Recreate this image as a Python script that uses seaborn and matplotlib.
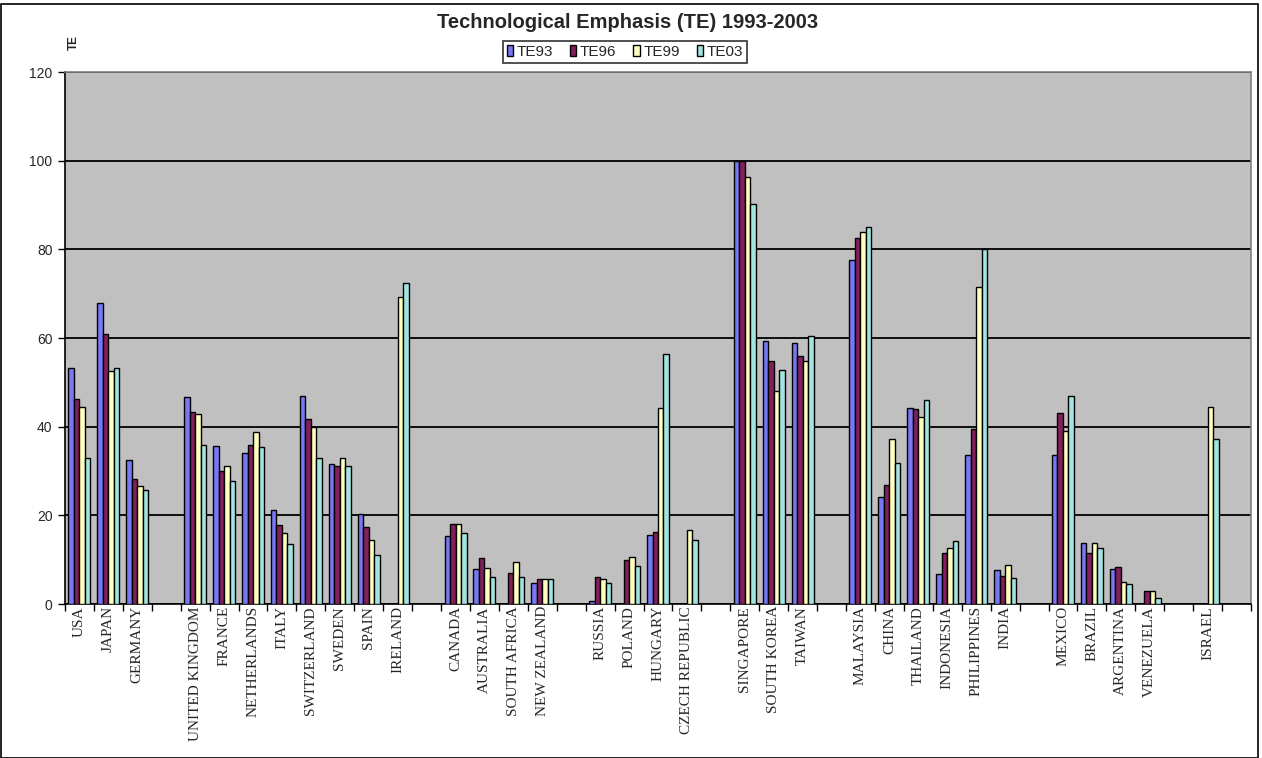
import numpy as np
import pandas as pd
import matplotlib
matplotlib.use("Agg")
import matplotlib.pyplot as plt
import seaborn as sns
from matplotlib import font_manager
from matplotlib.patches import Patch, Rectangle

# Categories (blank slots separate the regional groups)
countries = ['USA', 'JAPAN', 'GERMANY', '',
             'UNITED KINGDOM', 'FRANCE', 'NETHERLANDS', 'ITALY', 'SWITZERLAND',
             'SWEDEN', 'SPAIN', 'IRELAND', ' ',
             'CANADA', 'AUSTRALIA', 'SOUTH AFRICA', 'NEW ZEALAND', '  ',
             'RUSSIA', 'POLAND', 'HUNGARY', 'CZECH REPUBLIC', '   ',
             'SINGAPORE', 'SOUTH KOREA', 'TAIWAN', '    ',
             'MALAYSIA', 'CHINA', 'THAILAND', 'INDONESIA', 'PHILIPPINES', 'INDIA', '     ',
             'MEXICO', 'BRAZIL', 'ARGENTINA', 'VENEZUELA', '      ',
             'ISRAEL', '       ']

series = ['TE93', 'TE96', 'TE99', 'TE03']
nan = np.nan

# values, NaN where no bar is drawn
te93 = [53.3, 68.0, 32.4, nan,
        46.7, 35.7, 34.1, 21.1, 47.0, 31.6, 20.2, nan, nan,
        15.3, 7.8, nan, 4.8, nan,
        0.6, nan, 15.5, nan, nan,
        100.0, 59.3, 58.9, nan,
        77.6, 24.2, 44.3, 6.8, 33.6, 7.6, nan,
        33.6, 13.8, 7.9, nan, nan,
        nan, nan]
te96 = [46.3, 61.0, 28.2, nan,
        43.3, 30.0, 35.8, 17.8, 41.7, 31.2, 17.4, nan, nan,
        18.1, 10.3, 6.9, 5.6, nan,
        6.1, 9.9, 16.3, nan, nan,
        100.0, 54.7, 55.9, nan,
        82.6, 26.8, 44.0, 11.4, 39.4, 6.4, nan,
        43.1, 11.4, 8.3, 2.9, nan,
        nan, nan]
te99 = [44.5, 52.5, 26.6, nan,
        42.9, 31.2, 38.8, 16.1, 40.0, 32.9, 14.4, 69.3, nan,
        18.1, 8.2, 9.4, 5.6, nan,
        5.6, 10.7, 44.3, 16.7, nan,
        96.4, 48.0, 54.7, nan,
        84.0, 37.2, 42.2, 12.6, 71.6, 8.9, nan,
        39.0, 13.8, 5.0, 2.9, nan,
        44.5, nan]
te03 = [32.9, 53.3, 25.7, nan,
        35.8, 27.8, 35.4, 13.6, 32.9, 31.2, 11.1, 72.5, nan,
        16.1, 6.2, 6.2, 5.6, nan,
        4.8, 8.6, 56.3, 14.5, nan,
        90.2, 52.7, 60.5, nan,
        85.1, 31.8, 46.0, 14.3, 80.0, 5.9, nan,
        46.9, 12.6, 4.6, 1.3, nan,
        37.3, nan]

colors = ['#7878F4', '#83205C', '#FFFFC0', '#A2E4E0']

df = pd.DataFrame({'country': countries, 'TE93': te93, 'TE96': te96,
                   'TE99': te99, 'TE03': te03})
long_df = df.melt(id_vars='country', var_name='series', value_name='TE').dropna()

sns.set_style('white')
plt.rcParams['font.family'] = ['Liberation Sans', 'DejaVu Sans']

# narrow font for the legend if it is there
installed = {f.name for f in font_manager.fontManager.ttflist}
legend_font = 'Liberation Sans Narrow' if 'Liberation Sans Narrow' in installed else 'Liberation Sans'

fig = plt.figure(figsize=(12.62, 7.58), dpi=100)
ax = fig.add_axes([65 / 1262, 1 - 604 / 758, (1251 - 65) / 1262, (604 - 72) / 758])
ax.set_facecolor('#C0C0C0')

sns.barplot(data=long_df, x='country', y='TE', hue='series', order=countries,
            hue_order=series, palette=colors, saturation=1, width=0.76,
            edgecolor='black', linewidth=1.0, legend=False, ax=ax, zorder=3)

ax.set_xlim(-0.5, len(countries) - 0.5)
ax.set_ylim(0, 120)
ax.set_yticks(np.arange(0, 121, 20))
ax.yaxis.grid(True, color='black', linewidth=1.3, zorder=0)
ax.set_axisbelow(True)
ax.tick_params(axis='y', which='major', direction='out', length=5, width=1,
               color='black', labelsize=10, pad=4, left=True)

# x labels at centres, tick marks at slot boundaries
ax.set_xticks(np.arange(len(countries)))
ax.set_xticklabels(countries, rotation=90, fontsize=11,
                   family=['Liberation Serif', 'DejaVu Serif'], va='top')
ax.tick_params(axis='x', which='major', length=0, pad=1.5)
ax.set_xticks(np.arange(len(countries) + 1) - 0.5, minor=True)
ax.tick_params(axis='x', which='minor', direction='out', length=5, width=1,
               color='black', bottom=True)

ax.set_xlabel('')
ax.set_ylabel('')
for side in ['left', 'bottom']:
    ax.spines[side].set_color('black')
    ax.spines[side].set_linewidth(1.2)
for side in ['top', 'right']:
    ax.spines[side].set_color('#808080')
    ax.spines[side].set_linewidth(1.2)

fig.text(628 / 1262, 1 - 23 / 758, 'Technological Emphasis (TE) 1993-2003',
         ha='center', va='center', fontsize=14.5, fontweight='bold')
fig.text(74 / 1262, 1 - 43 / 758, 'TE', rotation=90, ha='center', va='center',
         fontsize=8.5, fontweight='bold')

handles = [Patch(facecolor=c, edgecolor='black', linewidth=1, label=s)
           for c, s in zip(colors, series)]
leg = fig.legend(handles=handles, loc='center', bbox_to_anchor=(625 / 1262, 1 - 52 / 758),
                 ncol=4, frameon=True, fancybox=False,
                 prop={'family': legend_font, 'size': 11},
                 handlelength=0.4, handleheight=0.7, handletextpad=0.25,
                 columnspacing=1.1, borderpad=0.25)
leg.get_frame().set_edgecolor('black')
leg.get_frame().set_linewidth(1.2)

fig.patches.append(Rectangle((1 / 1262, 0), 1257 / 1262, 1 - 4 / 758,
                             transform=fig.transFigure, fill=False,
                             edgecolor='black', linewidth=1.2))

fig.savefig('out.png', dpi=100)
